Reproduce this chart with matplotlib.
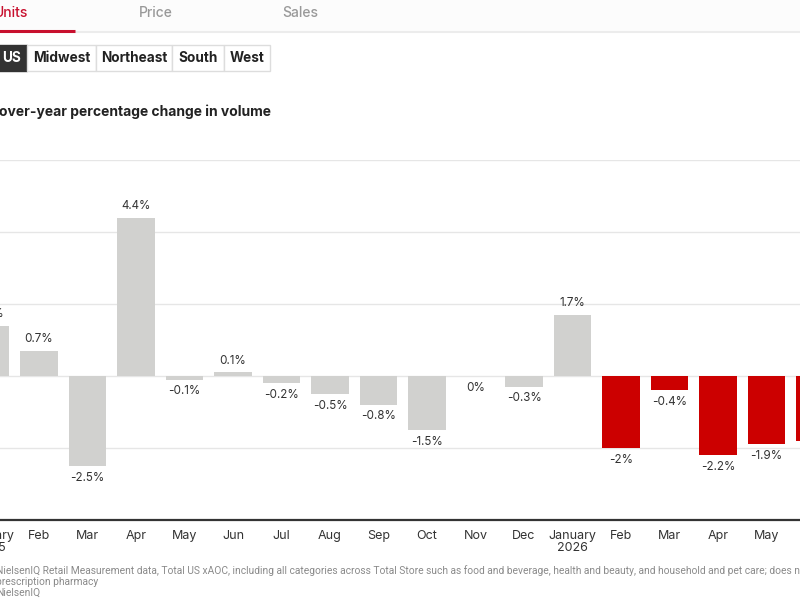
import matplotlib
matplotlib.use("Agg")
import matplotlib.pyplot as plt
from matplotlib.patches import Rectangle
from matplotlib.lines import Line2D

plt.rcParams['font.family'] = ['Inter', 'DejaVu Sans']

months = ["January\n2025", "Feb", "Mar", "Apr", "May", "Jun", "Jul", "Aug", "Sep",
          "Oct", "Nov", "Dec", "January\n2026", "Feb", "Mar", "Apr", "May", "Jun"]
values = [1.4, 0.7, -2.5, 4.4, -0.1, 0.1, -0.2, -0.5, -0.8,
          -1.5, 0.0, -0.3, 1.7, -2.0, -0.4, -2.2, -1.9, -1.8]
highlight_from = 13  # Feb 2026 onward in red
yticks = [-4, -2, 0, 2, 4, 6]

GREY = "#d1d1cf"
RED = "#cc0000"
TXT = "#333333"

W, H = 800, 600
fig = plt.figure(figsize=(8, 6), dpi=100)

def fx(x):
    return x / W

def fy(y):
    return 1 - y / H

# top tab area
fig.patches.append(Rectangle((0, fy(31)), 1, 31 / H, transform=fig.transFigure,
                             facecolor="#fcfcfc", edgecolor="none", zorder=0))
fig.lines.append(Line2D([0, 1], [fy(32), fy(32)], transform=fig.transFigure,
                        color="#ececec", lw=1.5))
fig.lines.append(Line2D([fx(-5), fx(75)], [fy(30.5), fy(30.5)], transform=fig.transFigure,
                        color="#c8102e", lw=2.2, solid_capstyle="butt"))
fig.text(fx(11), fy(13), "Units", color="#c8102e", fontsize=10, fontweight="medium",
         ha="center", va="center")
fig.text(fx(156), fy(13), "Price", color="#999999", fontsize=10, fontweight="medium",
         ha="center", va="center")
fig.text(fx(300), fy(13), "Sales", color="#999999", fontsize=10, fontweight="medium",
         ha="center", va="center")

# region buttons
buttons = [("US", -20, 27), ("Midwest", 27, 96), ("Northeast", 96, 172),
           ("South", 172, 224), ("West", 224, 270)]
for i, (name, x0, x1) in enumerate(buttons):
    sel = i == 0
    fig.patches.append(Rectangle((fx(x0), fy(71)), (x1 - x0) / W, 26 / H,
                                 transform=fig.transFigure,
                                 facecolor="#333333" if sel else "white",
                                 edgecolor="#333333" if sel else "#dddddd", lw=1))
    cx = 11.5 if sel else (x0 + x1) / 2
    fig.text(fx(cx), fy(58), name, color="white" if sel else "#222222",
             fontsize=9.8, fontweight="bold", ha="center", va="center")

# title: place so that "over-year" starts at the left edge
TITLE_KW = dict(color="#222222", fontsize=10.0, fontweight="bold", va="center")
renderer = fig.canvas.get_renderer()
probe = fig.text(0, 0, "Year-", **TITLE_KW)
w_prefix = probe.get_window_extent(renderer).width
probe.remove()
fig.text(fx(-w_prefix - 0.5), fy(112), "Year-over-year percentage change in volume",
         ha="left", **TITLE_KW)

# chart axes (wider than the figure, the view is cropped like the reference)
px_per_unit = 48.5
ax_left_px, ax_right_px = -60, 860
ax = fig.add_axes([fx(ax_left_px), fy(520), (ax_right_px - ax_left_px) / W, 360 / H])
x = list(range(len(values)))
colors = [RED if i >= highlight_from else GREY for i in x]
ax.bar(x, values, width=0.78, color=colors, zorder=2)

ax.set_yticks(yticks)
ax.yaxis.grid(True, color="#e6e6e6", lw=1, zorder=0)
ax.set_axisbelow(True)
ax.tick_params(axis="y", left=False, labelleft=False)
ax.set_xticks(x)
ax.set_xticklabels(months, fontsize=9, color=TXT, linespacing=1.0)
ax.tick_params(axis="x", length=0, pad=7)

def px_to_idx(p):
    return 1 + (p - 39) / px_per_unit

ax.set_xlim(px_to_idx(ax_left_px), px_to_idx(ax_right_px))
ax.set_ylim(-4, 6)

for s in ["top", "left", "right"]:
    ax.spines[s].set_visible(False)
ax.spines["bottom"].set_color("#333333")
ax.spines["bottom"].set_linewidth(1.6)
ax.spines["bottom"].set_zorder(3)

for xi, v in zip(x, values):
    label = f"{v:g}%"
    if v > 0:
        ax.annotate(label, (xi, v), xytext=(0, 4), textcoords="offset points",
                    ha="center", va="bottom", fontsize=8.4, color=TXT)
    else:
        ax.annotate(label, (xi, v), xytext=(0, -4), textcoords="offset points",
                    ha="center", va="top", fontsize=8.4, color=TXT)

# footnotes
FN = dict(color="#8a8a8a", fontsize=7.4, ha="left", va="center", family=["Roboto", "DejaVu Sans"])
fig.text(fx(-60), fy(571), "Note:", **FN)
fig.text(fx(-4), fy(571),
         "NielsenIQ Retail Measurement data, Total US xAOC, including all categories across Total Store such as food and beverage, health and beauty, and household and pet care; does not include",
         **FN)
fig.text(fx(-4), fy(582), "prescription pharmacy", **FN)
fig.text(fx(-60), fy(593), "Source:", **FN)
fig.text(fx(-4), fy(593), "NielsenIQ", **FN)

fig.savefig("out.png", dpi=100)
